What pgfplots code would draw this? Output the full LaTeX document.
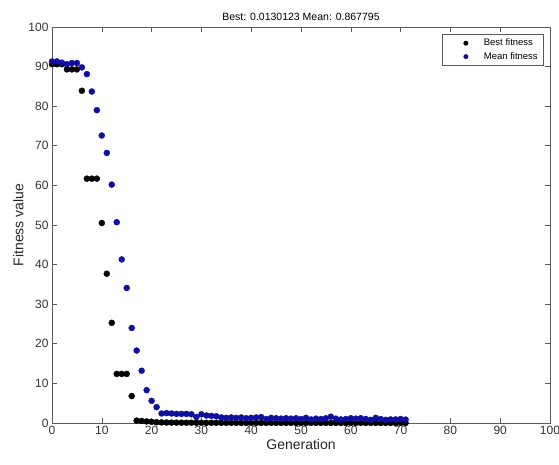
\documentclass[border=0pt]{standalone}
\usepackage{pgfplots}
\pgfplotsset{compat=1.18}
\usepackage{fontspec}
\setmainfont{Liberation Sans}
\definecolor{mblue}{RGB}{16,16,160}
\definecolor{axgray}{RGB}{90,90,90}
\begin{document}
\begin{tikzpicture}[x=1pt,y=1pt]
\useasboundingbox (-52,-42) rectangle (507,423);
\begin{axis}[
  at={(0,0)}, anchor=south west,
  scale only axis, width=498pt, height=396pt,
  xmin=0, xmax=100, ymin=0, ymax=100,
  xtick={0,10,...,100}, ytick={0,10,...,100},
  tick align=inside, major tick length=5pt,
  axis line style={axgray, line width=0.6pt},
  every tick/.style={axgray, line width=0.6pt},
  tick label style={font=\fontsize{12}{12}\selectfont, text=black!80},
  /pgf/number format/assume math mode=true,
  xlabel={Generation}, ylabel={Fitness value},
  label style={font=\fontsize{14}{14}\selectfont, text=black!85},
  xlabel style={yshift=3pt},
  ylabel style={yshift=-2pt},
  title={Best: 0.0130123 Mean: 0.867795},
  title style={font=\fontsize{10.5}{10.5}\selectfont, yshift=-3pt},
  legend style={at={(0.988,0.983)}, anchor=north east, draw=axgray, line width=0.6pt,
    font=\fontsize{9.5}{10}\selectfont, row sep=1pt, inner xsep=4pt, inner ysep=3pt},
  legend cell align=left,
  legend image code/.code={\path[draw=none, use as bounding box] (0pt,-3pt) rectangle (36pt,3pt); \fill[#1, draw=none] (20pt,0pt) circle (2.5pt);},
]
\addplot[only marks, mark=*, mark size=3pt, black, mark options={fill=black}] table {
x y
0 90.6
1 90.6
2 90.6
3 89.3
4 89.3
5 89.3
6 83.9
7 61.7
8 61.7
9 61.7
10 50.5
11 37.7
12 25.3
13 12.4
14 12.4
15 12.4
16 6.8
17 0.6
18 0.5
19 0.4
20 0.3
21 0.2
22 0.15
23 0.12
24 0.1
25 0.09
26 0.08
27 0.07
28 0.07
29 0.06
30 0.06
31 0.05
32 0.05
33 0.05
34 0.04
35 0.04
36 0.04
37 0.04
38 0.03
39 0.03
40 0.03
41 0.03
42 0.03
43 0.03
44 0.03
45 0.02
46 0.02
47 0.02
48 0.02
49 0.02
50 0.02
51 0.02
52 0.02
53 0.02
54 0.02
55 0.02
56 0.02
57 0.02
58 0.015
59 0.015
60 0.015
61 0.015
62 0.015
63 0.015
64 0.015
65 0.014
66 0.014
67 0.014
68 0.013
69 0.013
70 0.013
71 0.013
};
\addlegendentry{Best fitness}
\addplot[only marks, mark=*, mark size=3pt, mblue, mark options={fill=mblue}] table {
x y
0 91.3
1 91.3
2 91.0
3 90.6
4 90.9
5 90.9
6 89.8
7 88.1
8 83.7
9 79.0
10 72.6
11 68.2
12 60.2
13 50.7
14 41.3
15 34.1
16 24.0
17 18.3
18 13.2
19 8.3
20 5.6
21 4.0
22 2.4
23 2.5
24 2.4
25 2.3
26 2.3
27 2.3
28 2.2
29 1.5
30 2.2
31 1.9
32 1.8
33 1.7
34 1.4
35 1.3
36 1.4
37 1.3
38 1.4
39 1.2
40 1.3
41 1.4
42 1.5
43 1.0
44 1.3
45 1.2
46 1.1
47 1.2
48 1.1
49 1.2
50 1.0
51 1.3
52 0.9
53 1.1
54 1.0
55 1.2
56 1.6
57 1.1
58 0.9
59 1.0
60 1.2
61 1.1
62 1.2
63 1.0
64 0.8
65 1.3
66 1.0
67 0.8
68 0.9
69 0.9
70 1.0
71 0.87
};
\addlegendentry{Mean fitness}
\end{axis}
\end{tikzpicture}
\end{document}
